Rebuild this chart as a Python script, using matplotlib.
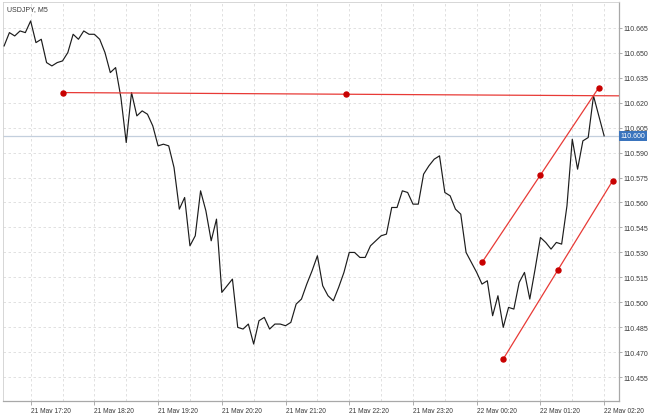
import numpy as np
import matplotlib
matplotlib.use('Agg')
import matplotlib.pyplot as plt
from matplotlib.ticker import FixedLocator, NullLocator

plt.rcParams['font.family'] = ['Liberation Sans', 'DejaVu Sans']

# USDJPY M5 closes, one per bar starting 21 May 16:55
closes = [110.654, 110.662, 110.660, 110.663, 110.662, 110.669, 110.656, 110.658,
          110.644, 110.642, 110.644, 110.645, 110.650, 110.661, 110.658, 110.663,
          110.661, 110.661, 110.658, 110.650, 110.638, 110.641, 110.623, 110.596,
          110.626, 110.612, 110.615, 110.613, 110.606, 110.594, 110.595, 110.594,
          110.581, 110.556, 110.563, 110.534, 110.540, 110.567, 110.555, 110.537,
          110.550, 110.506, 110.510, 110.514, 110.485, 110.484, 110.487, 110.475,
          110.489, 110.491, 110.484, 110.487, 110.487, 110.486, 110.488, 110.499,
          110.502, 110.511, 110.519, 110.528, 110.510, 110.504, 110.501, 110.509,
          110.518, 110.530, 110.530, 110.527, 110.527, 110.534, 110.537, 110.540,
          110.541, 110.557, 110.557, 110.567, 110.566, 110.559, 110.559, 110.577,
          110.582, 110.586, 110.588, 110.566, 110.564, 110.556, 110.553, 110.530,
          110.524, 110.518, 110.511, 110.513, 110.492, 110.504, 110.485, 110.497,
          110.496, 110.512, 110.518, 110.502, 110.520, 110.539, 110.536, 110.532,
          110.536, 110.535, 110.558, 110.598, 110.580, 110.597, 110.599, 110.624,
          110.612, 110.600]

time_labels = ['21 May 17:20', '21 May 18:20', '21 May 19:20', '21 May 20:20',
               '21 May 21:20', '21 May 22:20', '21 May 23:20', '22 May 00:20',
               '22 May 01:20', '22 May 02:20']
first_label_bar = 5

price_ticks = [110.455, 110.470, 110.485, 110.500, 110.515, 110.530, 110.545,
               110.560, 110.575, 110.590, 110.605, 110.620, 110.635, 110.650, 110.665]

# trend line objects (bar index, price)
level_x = [11, 117.8]
level_y = [110.626, 110.624]
upper_x = [90, 112]
upper_y = [110.524, 110.629]
lower_x = [94, 114.6]
lower_y = [110.466, 110.573]

red = '#e83a36'
dot = '#c80000'
txt = '#3a3a3a'

fig = plt.figure(figsize=(6.5, 4.14), dpi=100)
ax = fig.add_axes([3.3 / 650, (414 - 402) / 414, (619 - 3.3) / 650, (402 - 3.3) / 414])
ax.set_facecolor('white')

bars = np.arange(len(closes))
ax.plot(bars, closes, color='#1c1c1c', lw=0.85, zorder=4)

# current price line
last = closes[-1]
ax.axhline(last, color='#c3cfdd', lw=0.9, zorder=2)

for xs, ys in [(level_x, level_y), (upper_x, upper_y), (lower_x, lower_y)]:
    ax.plot(xs, ys, color=red, lw=0.9, zorder=5)
    mx = (xs[0] + xs[1]) / 2
    my = (ys[0] + ys[1]) / 2
    ax.plot([xs[0], mx, xs[1]], [ys[0], my, ys[1]], ls='none', marker='o',
            ms=3.6, color=dot, zorder=6)

ax.set_xlim(-0.15, 115.8)
ax.set_ylim(110.4408, 110.6802)

# grid every half hour / every price tick
grid_x = np.arange(first_label_bar, 116, 6)
for gx in grid_x:
    ax.axvline(gx, color='#dcdcdc', lw=0.6, ls=(0, (3, 3)), zorder=1)
for py in price_ticks:
    ax.axhline(py, color='#dcdcdc', lw=0.6, ls=(0, (3, 3)), zorder=1)

label_bars = [first_label_bar + 12 * i for i in range(len(time_labels))]
ax.xaxis.set_major_locator(FixedLocator(label_bars))
ax.set_xticklabels(time_labels)
for lab in ax.get_xticklabels():
    lab.set_horizontalalignment('left')
ax.tick_params(axis='x', length=3, width=0.6, color='#a0a0a0', labelsize=4.8,
               labelcolor=txt, pad=1.5)

ax.yaxis.tick_right()
ax.yaxis.set_major_locator(FixedLocator(price_ticks))
ax.set_yticklabels(['%.3f' % p for p in price_ticks])
ax.tick_params(axis='y', length=2, width=0.6, color='#a0a0a0', labelsize=5.0,
               labelcolor=txt, pad=1.0)
ax.xaxis.set_minor_locator(NullLocator())

for side in ['left', 'top']:
    ax.spines[side].set_color('#d0d0d0')
    ax.spines[side].set_linewidth(0.6)
for side in ['right', 'bottom']:
    ax.spines[side].set_color('#a8a8a8')
    ax.spines[side].set_linewidth(0.9)

# price label on the axis
ax.text(1.003, last, '%.3f' % last, transform=ax.get_yaxis_transform(),
        fontsize=5.0, color='white', va='center', ha='left', zorder=10,
        bbox=dict(boxstyle='square,pad=0.2', fc='#3a74bd', ec='none'),
        clip_on=False)

ax.text(0.006, 0.993, 'USDJPY, M5', transform=ax.transAxes, fontsize=5.0,
        color=txt, va='top', ha='left')

fig.savefig('out.png', dpi=100, facecolor='white')
